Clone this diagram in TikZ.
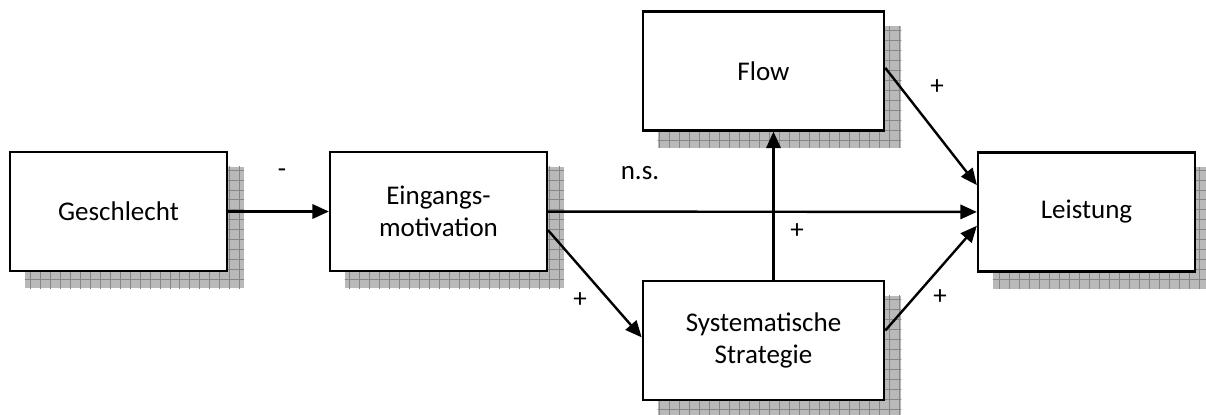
\documentclass[tikz,border=0pt]{standalone}
\usepackage{fontspec}
\setmainfont{Carlito}
\usetikzlibrary{arrows.meta,positioning,calc,backgrounds}

\begin{document}
\begin{tikzpicture}[x=0.016cm, y=-0.016cm, font=\fontsize{12.3}{14.5}\selectfont,
    box/.style={draw, line width=1.1pt, fill=white, minimum width=3.47cm, minimum height=1.9cm, align=center},
    widebox/.style={box, minimum width=3.86cm},
    arr/.style={-{Triangle[length=7.5pt,width=6.5pt]}, line width=1.1pt},
    shadowfill/.style={fill=gray!55},
    shadowgrid/.style={draw=gray!95, line width=0.4pt}]
    \useasboundingbox (0,0) rectangle (1206,414);

    \node (ges) [box] at (118.5,211.5) {Geschlecht};
    \node (ein) [box] at (438.5,211.5) {Eingangs-\\motivation};
    \node (flow) [widebox] at (763.5,71) {Flow};
    \node (sys) [widebox] at (763.5,340.5) {Systematische\\Strategie};
    \node (lei) [box] at (1086.5,212) {Leistung};

    % shadows
    \begin{scope}[on background layer]
        \foreach \n in {ges,ein,flow,sys,lei} {
            \fill [shadowfill] ($(\n.south west)+(16,16)$) rectangle ($(\n.north east)+(16,16)$);
            \begin{scope}
                \clip ($(\n.south west)+(16,16)$) rectangle ($(\n.north east)+(16,16)$);
                \draw [shadowgrid, step=0.16cm] ($(\n.south west)+(6,26)$) grid ($(\n.north east)+(26,6)$);
            \end{scope}
        }
    \end{scope}

    \draw [arr] (ges) -- (ein);
    \draw [arr] (ein) -- (lei);
    \draw [arr] ([yshift=-0.3cm]ein.east) -- ([yshift=0.05cm]sys.west);
    \draw [arr] ([xshift=0.16cm]sys.north) -- ([xshift=0.16cm]flow.south);
    \draw [arr] ([yshift=0.16cm]sys.east) -- ([yshift=-0.22cm]lei.west);
    \draw [arr] ([yshift=0.05cm]flow.east) -- ([yshift=0.43cm]lei.west);

    \node (lminus) at (282,173) {-};
    \node (lns) at (640,173) {n.s.};
    \node (lmid) at (797,231) {+};
    \node (lein) at (580,300) {+};
    \node (lsys) at (940,297) {+};
    \node (lflow) at (937,87) {+};
\end{tikzpicture}
\end{document}
